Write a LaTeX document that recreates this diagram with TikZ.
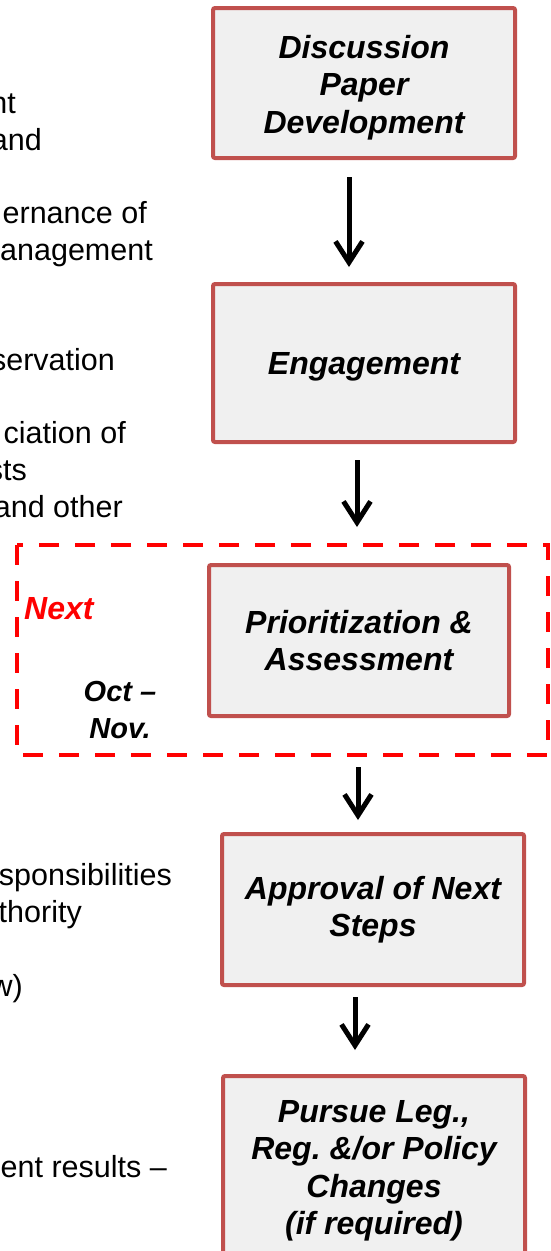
\documentclass[tikz,border=0pt]{standalone}
\usepackage{fontspec}
\setmainfont{Liberation Sans}
\usetikzlibrary{arrows.meta}
\definecolor{boxred}{HTML}{C0504D}
\definecolor{boxfill}{HTML}{F0F0F0}
\frenchspacing
\begin{document}
\begin{tikzpicture}[x=1pt,y=-1pt,
  stage/.style={draw=boxred,line width=4pt,fill=boxfill,rounded corners=2pt,minimum width=302pt,align=center,inner sep=0pt,font=\fontsize{32}{37.5}\selectfont\bfseries\itshape},
  note/.style={anchor=base east,inner sep=0pt,font=\fontsize{30.5}{37}\selectfont},
  flow/.style={line width=5pt,-{Straight Barb[length=21pt,width=27pt]}},
  nextframe/.style={draw=red,line width=4.5pt,dash pattern=on 20pt off 16pt}]
  \useasboundingbox (0,0) rectangle (551,1251);
  % cut-off notes on the left
  \foreach \t/\x/\y [count=\i] in {nt/16/113,and/42/150,ernance of/147/223,anagement/153/260,servation/115/370,ciation of/126/443,sts/27/480,and other/123/517,sponsibilities/172/885,thority/82/922,w)/23/996,ent results –/167/1177}
    \node[note] (note\i) at (\x,\y) {\t};
  % stages
  \node[stage,minimum height=150pt] (disc) at (364,83) {\rule{0pt}{32pt}Discussion\\Paper\\Development};
  \node[stage,minimum height=158pt] (engage) at (364,363) {\rule{0pt}{30pt}Engagement};
  \draw[nextframe] (17,545) rectangle (548,755);
  \node[stage,minimum width=300pt,minimum height=151pt] (prior) at (359,640.5) {Prioritization \&\\Assessment};
  \node[stage,minimum height=151pt] (approve) at (373,909.5) {Approval of Next\\Steps};
  \node[stage,minimum height=180pt] (pursue) at (374,1166) {\rule{0pt}{32pt}Pursue Leg.,\\Reg. \&/or Policy\\Changes\\(if required)};
  \node[anchor=base west,inner sep=0pt,text=red,font=\fontsize{32}{37.5}\selectfont\bfseries\itshape] (nextlbl) at (24,619) {Next};
  \node[align=center,inner sep=0pt,font=\fontsize{29}{37}\selectfont\bfseries\itshape] (when) at (120,710) {Oct –\\Nov.};
  \draw[flow,shorten <=17pt,shorten >=15pt] ([xshift=-15pt]disc.south) -- ([xshift=-15pt]engage.north);
  \draw[flow,shorten <=16pt,shorten >=36pt] ([xshift=-7pt]engage.south) -- ([xshift=-2pt]prior.north);
  \draw[flow,shorten <=49pt,shorten >=12pt] ([xshift=-1pt]prior.south) -- ([xshift=-15pt]approve.north);
  \draw[flow,shorten <=10pt,shorten >=24pt] ([xshift=-18pt]approve.south) -- ([xshift=-19pt]pursue.north);
\end{tikzpicture}
\end{document}
